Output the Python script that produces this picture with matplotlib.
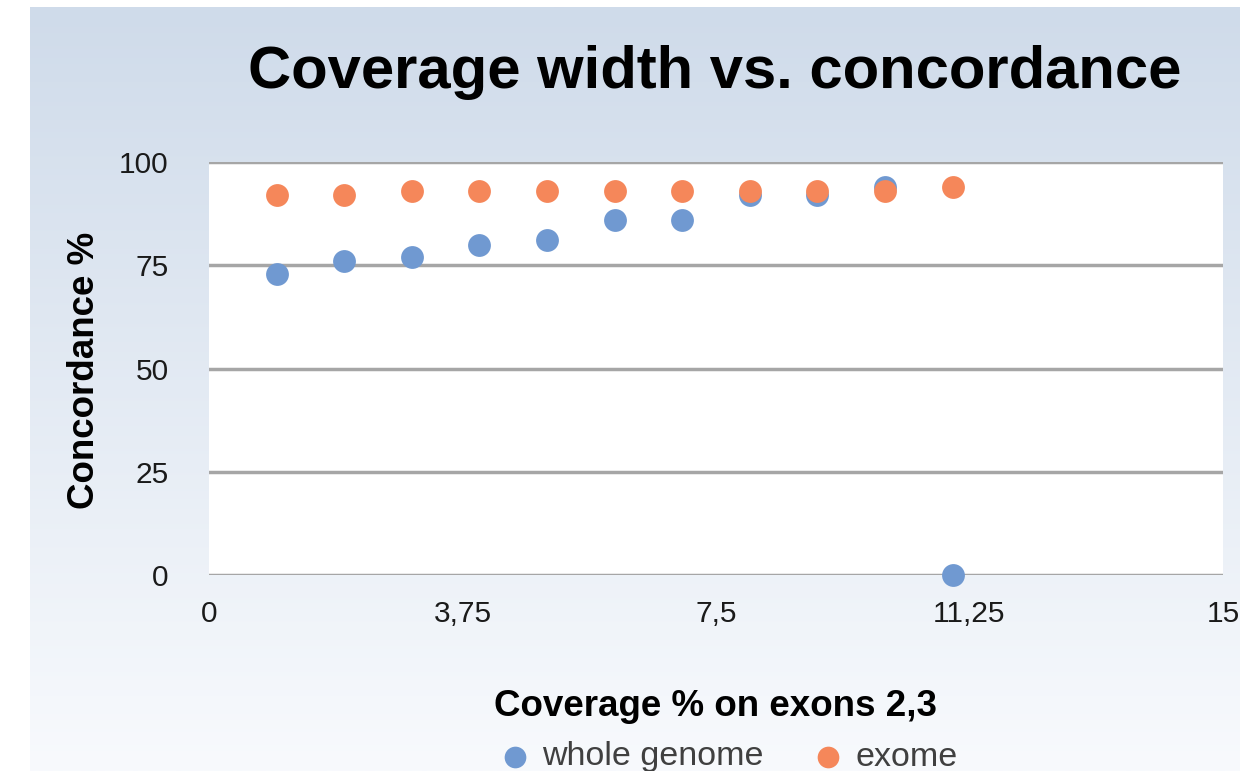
import matplotlib.pyplot as plt
import numpy as np
from matplotlib.colors import LinearSegmentedColormap

plt.rcParams['font.family'] = ['Liberation Sans', 'DejaVu Sans']

# data
coverage = [1, 2, 3, 4, 5, 6, 7, 8, 9, 10, 11]
whole_genome = [73, 76, 77, 80, 81, 86, 86, 92, 92, 94, 0]
exome = [92, 92, 93, 93, 93, 93, 93, 93, 93, 93, 94]
xticks = [0, 3.75, 7.5, 11.25, 15]
xtick_labels = ["0", "3,75", "7,5", "11,25", "15"]
yticks = [0, 25, 50, 75, 100]

W, H = 1240, 771
fig = plt.figure(figsize=(W / 100, H / 100), dpi=100, facecolor="white")

# gradient background panel
bg = fig.add_axes([30 / W, 0, 1 - 30 / W, 1 - 7 / H])
cmap = LinearSegmentedColormap.from_list("bg", ["#cfdbea", "#f8fafd"])
bg.imshow(np.linspace(0, 1, 256).reshape(-1, 1), aspect="auto", cmap=cmap,
          extent=[0, 1, 0, 1])
bg.axis("off")

ax = fig.add_axes([209 / W, 1 - 575 / H, (1223 - 209) / W, (575 - 162) / H])
ax.set_facecolor("white")
ax.scatter(coverage, whole_genome, s=270, color="#7099d1", zorder=3,
           label="whole genome", clip_on=False, linewidths=0)
ax.scatter(coverage, exome, s=270, color="#f5875a", zorder=4,
           label="exome", clip_on=False, linewidths=0)

ax.set_xlim(0, 15)
ax.set_ylim(0, 100)
ax.set_xticks(xticks)
ax.set_xticklabels(xtick_labels)
ax.set_yticks(yticks)
ax.tick_params(axis="both", length=0, labelsize=21.5, colors="#1a1a1a")
ax.tick_params(axis="x", pad=18)
ax.tick_params(axis="y", pad=29)
ax.grid(axis="y", color="#a6a6a6", linewidth=2.5, zorder=1)
ax.set_axisbelow(True)
for s in ax.spines.values():
    s.set_visible(False)

fig.text(715 / W, 1 - 72 / H, "Coverage width vs. concordance", fontsize=43,
         fontweight="bold", ha="center", va="center")
fig.text(85 / W, 1 - 370 / H, "Concordance %", fontsize=26.5, fontweight="bold",
         rotation=90, ha="center", va="center")
fig.text(715 / W, 1 - 707 / H, "Coverage % on exons 2,3", fontsize=26.5,
         fontweight="bold", ha="center", va="center")

leg = fig.legend(loc="center", bbox_to_anchor=(731 / W, 1 - 757 / H), ncol=2,
                 frameon=False, fontsize=24.5, handlelength=0.6,
                 handletextpad=0.5, columnspacing=1.6, markerscale=0.95)
for t in leg.get_texts():
    t.set_color("#404040")

fig.savefig("out.png", dpi=100, facecolor="white")
